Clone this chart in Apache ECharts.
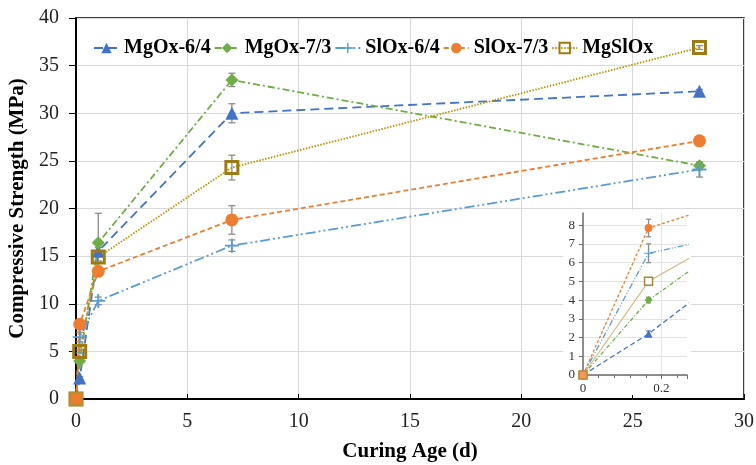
<!DOCTYPE html>
<html>
<head>
<meta charset="utf-8">
<script src="https://cdn.jsdelivr.net/npm/echarts@6/dist/echarts.min.js"></script>
<style>html,body{margin:0;padding:0;background:#fff}#c{width:756px;height:465px}</style>
</head>
<body>
<div id="c"></div>
<script>
// ---- data ----
const days = [0, 0.167, 1, 7, 28];
const seriesNames = ['MgOx-6/4', 'MgOx-7/3', 'SlOx-6/4', 'SlOx-7/3', 'MgSlOx'];
const mgOx64 = [0, 2.2, 15.5, 30.0, 32.3];
const mgOx73 = [0, 4.0, 16.4, 33.5, 24.5];
const slOx64 = [0, 6.5, 10.3, 16.1, 24.1];
const slOx73 = [0, 7.85, 13.4, 18.8, 27.1];
const mgSlOx = [0, 5.0, 14.9, 24.3, 36.9];
const mgOx64Err = [0, 0.15, 0.4, 1.0, 0.2];
const mgOx73Err = [0, 0.15, 3.1, 0.7, 0.3];
const slOx64Err = [0, 0.5, 0.4, 0.6, 0.8];
const slOx73Err = [0, 0.47, 0.4, 1.5, 0.3];
const mgSlOxErr = [0, 0.15, 0.4, 1.3, 0.2];
const xTicks = [0, 5, 10, 15, 20, 25, 30];
const yTicks = [0, 5, 10, 15, 20, 25, 30, 35, 40];
const insetXLabels = [0, 0.2];

const SERIF = '"Liberation Serif","Times New Roman",serif';
const PLUS = 'path://M5.2,0h1.6v5.2h5.2v1.6h-5.2v5.2h-1.6v-5.2h-5.2v-1.6h5.2z';

const specs = [
  {name: seriesNames[0], vals: mgOx64, err: mgOx64Err, color: '#4472C4', symbol: 'triangle', size: 13, dash: [9, 5], idash: [5, 3]},
  {name: seriesNames[1], vals: mgOx73, err: mgOx73Err, color: '#70AD47', symbol: 'diamond', size: 13, dash: [7, 3, 2, 3], idash: [4, 2, 1, 2]},
  {name: seriesNames[2], vals: slOx64, err: slOx64Err, color: '#5B9BD5', symbol: PLUS, size: 14, dash: [10, 3, 2, 3, 2, 3], idash: [6, 2, 1, 2, 1, 2]},
  {name: seriesNames[3], vals: slOx73, err: slOx73Err, color: '#ED7D31', symbol: 'circle', size: 13, dash: [5, 3], idash: [3, 2]},
  {name: seriesNames[4], vals: mgSlOx, err: mgSlOxErr, color: '#BF9000', symbol: 'rect', size: 12, dash: [1.5, 1.5], idash: null}
];

function pts(vals, n) { return days.slice(0, n).map((d, i) => [d, vals[i]]); }

function errSeries(sp, xi, yi, cap, z, maxX) {
  const data = [];
  days.forEach((d, i) => {
    if (sp.err[i] > 0 && d <= maxX) data.push([d, sp.vals[i] - sp.err[i], sp.vals[i] + sp.err[i]]);
  });
  return {
    type: 'custom', xAxisIndex: xi, yAxisIndex: yi, z: z, silent: true,
    data: data,
    renderItem: function (params, api) {
      const x = api.value(0);
      const lo = api.coord([x, api.value(1)]);
      const hi = api.coord([x, api.value(2)]);
      const st = {stroke: '#8C8C8C', lineWidth: 1.3, fill: null};
      return {type: 'group', children: [
        {type: 'line', shape: {x1: lo[0], y1: lo[1], x2: hi[0], y2: hi[1]}, style: st},
        {type: 'line', shape: {x1: hi[0] - cap, y1: hi[1], x2: hi[0] + cap, y2: hi[1]}, style: st},
        {type: 'line', shape: {x1: lo[0] - cap, y1: lo[1], x2: lo[0] + cap, y2: lo[1]}, style: st}
      ]};
    }
  };
}

const series = [];
specs.forEach(sp => series.push(errSeries(sp, 0, 0, 3.5, 3, 100)));
specs.forEach((sp, k) => {
  const isSq = sp.symbol === 'rect';
  series.push({
    type: 'line', name: sp.name, xAxisIndex: 0, yAxisIndex: 0, z: 4,
    data: pts(sp.vals, 5),
    symbol: sp.symbol, symbolSize: sp.size, showAllSymbol: true,
    lineStyle: {color: sp.color, width: 1.8, type: sp.dash},
    itemStyle: isSq ? {color: 'rgba(255,255,255,0)', borderColor: '#9E7A12', borderWidth: 3}
                    : {color: sp.color, borderWidth: 0},
    emphasis: {disabled: true}, animation: false
  });
});
specs.forEach(sp => series.push(errSeries(sp, 1, 1, 2.5, 6, 0.26)));
specs.forEach(sp => {
  const isSq = sp.symbol === 'rect';
  series.push({
    type: 'line', name: 'inset ' + sp.name, xAxisIndex: 1, yAxisIndex: 1, z: 7,
    data: pts(sp.vals, 3), clip: true,
    symbol: sp.symbol, symbolSize: isSq ? 8 : (sp.symbol === PLUS ? 9 : 8),
    lineStyle: isSq ? {color: '#D4BC85', width: 1.2, type: 'solid'} : {color: sp.color, width: 1.3, type: sp.idash},
    itemStyle: isSq ? {color: '#ffffff', borderColor: '#A8883A', borderWidth: 1.5}
                    : {color: sp.color, borderWidth: 0},
    emphasis: {disabled: true}, animation: false
  });
});
// origin markers drawn orange
series.push({
  type: 'scatter', xAxisIndex: 1, yAxisIndex: 1, z: 8, data: [[days[0], slOx73[0]]],
  symbol: 'rect', symbolSize: 8, itemStyle: {color: '#ED7D31', borderColor: '#B8913A', borderWidth: 1}, silent: true, animation: false
});
series.push({
  type: 'scatter', xAxisIndex: 0, yAxisIndex: 0, z: 5, data: [[days[0], slOx73[0]]],
  symbol: 'rect', symbolSize: 12, itemStyle: {color: '#ED7D31', borderColor: '#B8913A', borderWidth: 2}, silent: true, animation: false
});

const chart = echarts.init(document.getElementById('c'), null, {renderer: 'canvas'});
chart.setOption({
  animation: false,
  backgroundColor: '#fff',
  grid: [
    {left: 76, right: 12, top: 18, bottom: 66, show: true, borderColor: '#000', borderWidth: 1.5, backgroundColor: 'transparent', outerBoundsMode: 'none', containLabel: false},
    {left: 583, top: 213, width: 104, height: 162, outerBoundsMode: 'none', containLabel: false}
  ],
  graphic: [
    {type: 'rect', z: 1, shape: {x: 563, y: 210, width: 128, height: 185}, style: {fill: '#fff'}, silent: true}
  ],
  legend: {
    data: seriesNames, left: 88, top: 33, itemWidth: 25, itemHeight: 13, itemGap: 3,
    textStyle: {fontFamily: SERIF, fontWeight: 'bold', fontSize: 20, color: '#000'},
    selectedMode: false
  },
  xAxis: [
    {
      type: 'value', gridIndex: 0, min: xTicks[0], max: xTicks[xTicks.length - 1], interval: 5,
      name: 'Curing Age (d)', nameLocation: 'middle', nameGap: 42,
      nameTextStyle: {fontFamily: SERIF, fontWeight: 'bold', fontSize: 21, color: '#000'},
      axisLine: {lineStyle: {color: '#000', width: 2}},
      axisTick: {show: true, inside: true, length: 5, lineStyle: {color: '#000', width: 1}},
      axisLabel: {fontFamily: SERIF, fontSize: 20, color: '#222', margin: 13},
      splitLine: {show: true, lineStyle: {color: '#D9D9D9', width: 1}}
    },
    {
      type: 'value', gridIndex: 1, min: 0, max: 0.265, interval: 0.2, z: 2,
      axisLine: {lineStyle: {color: '#6E6E6E', width: 1.5}},
      axisTick: {show: true, length: 4, lineStyle: {color: '#6E6E6E'}},
      minorTick: {show: true, splitNumber: 5, length: 3, lineStyle: {color: '#6E6E6E'}},
      axisLabel: {fontFamily: SERIF, fontSize: 13, color: '#333', margin: 7, showMaxLabel: false,
        formatter: v => insetXLabels.some(t => Math.abs(t - v) < 1e-6) ? String(insetXLabels.find(t => Math.abs(t - v) < 1e-6)) : ''},
      splitLine: {show: true, showMaxLine: false, lineStyle: {color: '#E3E3E3', width: 1}}
    }
  ],
  yAxis: [
    {
      type: 'value', gridIndex: 0, min: yTicks[0], max: yTicks[yTicks.length - 1], interval: 5,
      name: 'Compressive Strength (MPa)', nameLocation: 'middle', nameGap: 38,
      nameTextStyle: {fontFamily: SERIF, fontWeight: 'bold', fontSize: 21, color: '#000'},
      axisLine: {lineStyle: {color: '#000', width: 2}},
      axisTick: {show: true, inside: false, length: 7, lineStyle: {color: '#000', width: 1}},
      axisLabel: {fontFamily: SERIF, fontSize: 20, color: '#222', margin: 17},
      splitLine: {show: true, lineStyle: {color: '#D9D9D9', width: 1}}
    },
    {
      type: 'value', gridIndex: 1, min: 0, max: 8.65, interval: 1, z: 2,
      axisLine: {show: true, lineStyle: {color: '#6E6E6E', width: 1.5}},
      axisTick: {show: true, length: 4, lineStyle: {color: '#6E6E6E'}},
      axisLabel: {fontFamily: SERIF, fontSize: 13, color: '#333', margin: 8, showMaxLabel: false,
        formatter: v => (Math.abs(v - Math.round(v)) < 1e-6 ? String(Math.round(v)) : '')},
      splitLine: {show: true, showMaxLine: false, lineStyle: {color: '#E3E3E3', width: 1}}
    }
  ],
  series: series
});
</script>
</body>
</html>
